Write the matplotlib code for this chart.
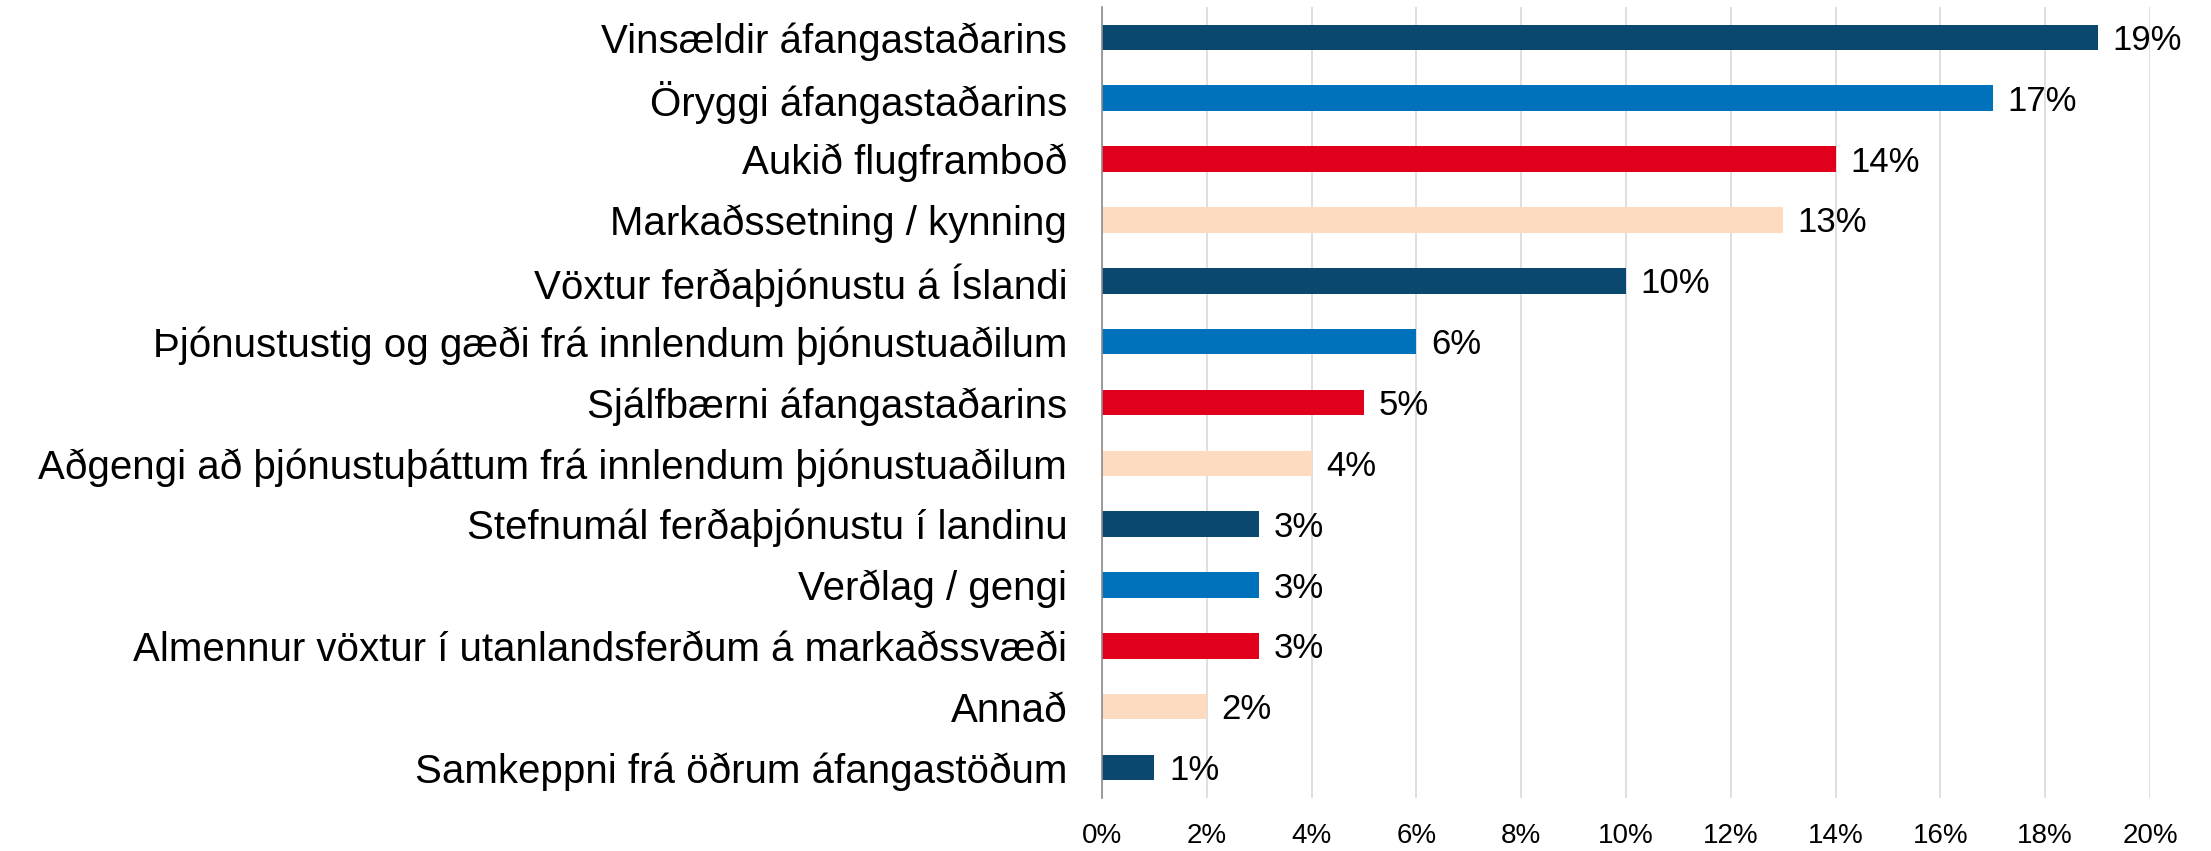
import matplotlib
matplotlib.use("Agg")
import matplotlib.pyplot as plt
from matplotlib.ticker import PercentFormatter

plt.rcParams['font.family'] = ['Liberation Sans', 'DejaVu Sans']

labels = ["Vinsældir áfangastaðarins",
          "Öryggi áfangastaðarins",
          "Aukið flugframboð",
          "Markaðssetning / kynning",
          "Vöxtur ferðaþjónustu á Íslandi",
          "Þjónustustig og gæði frá innlendum þjónustuaðilum",
          "Sjálfbærni áfangastaðarins",
          "Aðgengi að þjónustuþáttum frá innlendum þjónustuaðilum",
          "Stefnumál ferðaþjónustu í landinu",
          "Verðlag / gengi",
          "Almennur vöxtur í utanlandsferðum á markaðssvæði",
          "Annað",
          "Samkeppni frá öðrum áfangastöðum"]
values = [19, 17, 14, 13, 10, 6, 5, 4, 3, 3, 3, 2, 1]
palette = ["#0B4870", "#0072BC", "#E0001B", "#FDDBC0"]
colors = [palette[i % 4] for i in range(len(values))]

fig = plt.figure(figsize=(22.11, 8.51), dpi=100)
ax = fig.add_axes([0.4984, 0.0623, 0.9724 - 0.4984, 0.9918 - 0.0623])

ypos = list(range(len(values)))
ax.barh(ypos, values, height=0.42, color=colors, zorder=3)
for y, v in zip(ypos, values):
    ax.text(v + 0.28, y + 0.05, f"{v}%", va="center", ha="left", fontsize=25,
            color="black", zorder=4)

ax.set_ylim(len(values) - 0.5, -0.5)
ax.set_xlim(0, 20)
ax.set_xticks(range(0, 21, 2))
ax.xaxis.set_major_formatter(PercentFormatter(decimals=0))
ax.set_yticks(ypos)
ax.set_yticklabels(labels, fontsize=29)
ax.tick_params(axis="y", length=0, pad=25)
ax.tick_params(axis="x", length=0, pad=18, labelsize=20)
ax.grid(axis="x", color="#d9d9d9", linewidth=1.2, zorder=0)
for s in ["top", "right", "bottom"]:
    ax.spines[s].set_visible(False)
ax.spines["left"].set_color("#8c8c8c")
ax.spines["left"].set_linewidth(1.2)
ax.spines["left"].set_zorder(5)

fig.savefig("out.png", dpi=100)
